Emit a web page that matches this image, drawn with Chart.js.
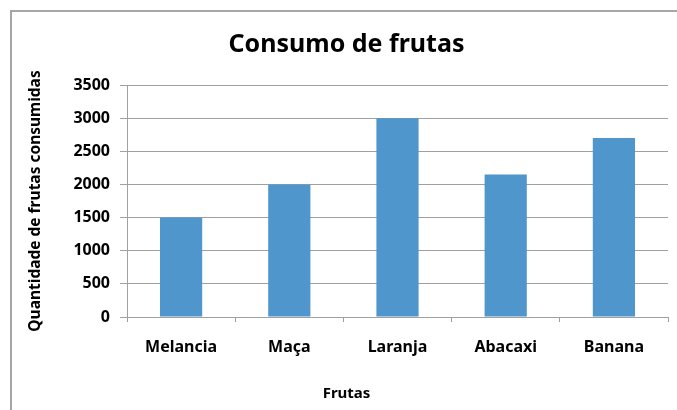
<!DOCTYPE html>
<html>
<head>
<meta charset="utf-8">
<script src="https://cdn.jsdelivr.net/npm/chart.js@4/dist/chart.umd.min.js"></script>
<style>
  body { margin: 0; background: #fff; }
  #box { position: relative; width: 677px; height: 410px; overflow: hidden; }
  #moldura { position: absolute; left: 10px; top: 10px; width: 700px; height: 450px;
             border-left: 2px solid #a6a6a6; border-top: 2px solid #a6a6a6; }
  canvas { position: absolute; left: 0; top: 0; }
</style>
</head>
<body>
<div id="box">
  <div id="moldura"></div>
  <canvas id="grafico" width="677" height="410"></canvas>
</div>
<script>
const frutas = ["Melancia", "Maça", "Laranja", "Abacaxi", "Banana"];
const consumo = [1500, 2000, 3000, 2150, 2700];
const yMin = 0;
const yMax = 3500;
const yPasso = 500;

const fonte = "'Noto Sans', 'DejaVu Sans', sans-serif";

window.onload = () => {
    const ctx = document.getElementById("grafico").getContext("2d");

    new Chart(ctx, {
        type: "bar",
        data: {
            labels: frutas,
            datasets: [{
                label: "Consumo",
                data: consumo,
                backgroundColor: "#4f96cd",
                borderWidth: 0,
                categoryPercentage: 1,
                barPercentage: 0.39
            }]
        },
        options: {
            responsive: false,
            animation: false,
            layout: { padding: { left: 25, right: 9, top: 0, bottom: 0 } },
            plugins: {
                legend: { display: false },
                tooltip: { enabled: false },
                title: {
                    display: true,
                    text: "Consumo de frutas",
                    color: "#000",
                    font: { family: fonte, size: 25, weight: "bold" },
                    padding: { top: 30, bottom: 25 }
                },
                subtitle: {
                    display: true,
                    position: "bottom",
                    text: "Frutas",
                    color: "#000",
                    font: { family: fonte, size: 15, weight: "bold" },
                    padding: { top: 23, bottom: 7 }
                }
            },
            scales: {
                x: {
                    afterFit: (escala) => { escala.height = 45; },
                    grid: { drawOnChartArea: false, drawTicks: true, tickLength: 5, color: "#a0a0a0" },
                    border: { color: "#a0a0a0" },
                    ticks: {
                        color: "#000",
                        padding: 16,
                        font: { family: fonte, size: 16, weight: "bold" }
                    }
                },
                y: {
                    min: yMin,
                    max: yMax,
                    afterFit: (escala) => { escala.width = 102; },
                    grid: { color: "#a0a0a0", tickLength: 7 },
                    border: { color: "#a0a0a0" },
                    ticks: {
                        stepSize: yPasso,
                        color: "#000",
                        padding: 10,
                        font: { family: fonte, size: 16, weight: "bold" },
                        callback: (valor) => String(valor)
                    },
                    title: {
                        display: true,
                        text: "Quantidade de frutas consumidas",
                        color: "#000",
                        padding: { top: 1, bottom: 0 },
                        font: { family: fonte, size: 15.5, weight: "bold" }
                    }
                }
            }
        }
    });
};
</script>
</body>
</html>
